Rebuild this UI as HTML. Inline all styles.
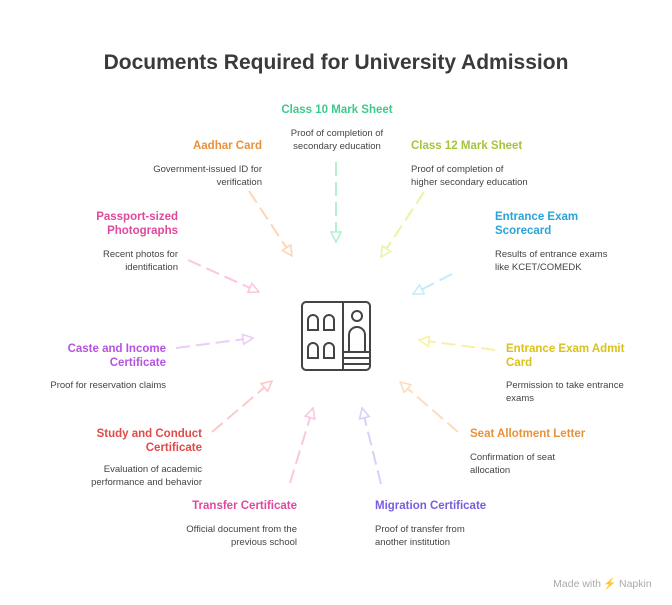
<!DOCTYPE html>
<html><head><meta charset="utf-8"><style>
html,body{margin:0;padding:0;background:#fff;}
svg{display:block;font-family:"Liberation Sans",sans-serif;}
.t{font-size:11.5px;font-weight:bold;}
.d{font-size:9.5px;fill:#444;}
</style></head><body>
<svg width="672" height="605" viewBox="0 0 672 605">
<defs>
<marker id="m1" viewBox="0 0 12 12" refX="11" refY="6" markerWidth="12" markerHeight="12" markerUnits="userSpaceOnUse" orient="auto"><path d="M1,1 L11,6 L1,11 Z" fill="#fff" stroke="#b3f0cf" stroke-width="1.6"/></marker>
<marker id="m2" viewBox="0 0 12 12" refX="11" refY="6" markerWidth="12" markerHeight="12" markerUnits="userSpaceOnUse" orient="auto"><path d="M1,1 L11,6 L1,11 Z" fill="#fff" stroke="#fdd6b5" stroke-width="1.6"/></marker>
<marker id="m3" viewBox="0 0 12 12" refX="11" refY="6" markerWidth="12" markerHeight="12" markerUnits="userSpaceOnUse" orient="auto"><path d="M1,1 L11,6 L1,11 Z" fill="#fff" stroke="#e6f5a6" stroke-width="1.6"/></marker>
<marker id="m4" viewBox="0 0 12 12" refX="11" refY="6" markerWidth="12" markerHeight="12" markerUnits="userSpaceOnUse" orient="auto"><path d="M1,1 L11,6 L1,11 Z" fill="#fff" stroke="#c4ebfa" stroke-width="1.6"/></marker>
<marker id="m5" viewBox="0 0 12 12" refX="11" refY="6" markerWidth="12" markerHeight="12" markerUnits="userSpaceOnUse" orient="auto"><path d="M1,1 L11,6 L1,11 Z" fill="#fff" stroke="#fcc6e2" stroke-width="1.6"/></marker>
<marker id="m6" viewBox="0 0 12 12" refX="11" refY="6" markerWidth="12" markerHeight="12" markerUnits="userSpaceOnUse" orient="auto"><path d="M1,1 L11,6 L1,11 Z" fill="#fff" stroke="#eecbf8" stroke-width="1.6"/></marker>
<marker id="m7" viewBox="0 0 12 12" refX="11" refY="6" markerWidth="12" markerHeight="12" markerUnits="userSpaceOnUse" orient="auto"><path d="M1,1 L11,6 L1,11 Z" fill="#fff" stroke="#f8f0a6" stroke-width="1.6"/></marker>
<marker id="m8" viewBox="0 0 12 12" refX="11" refY="6" markerWidth="12" markerHeight="12" markerUnits="userSpaceOnUse" orient="auto"><path d="M1,1 L11,6 L1,11 Z" fill="#fff" stroke="#fcc9c9" stroke-width="1.6"/></marker>
<marker id="m9" viewBox="0 0 12 12" refX="11" refY="6" markerWidth="12" markerHeight="12" markerUnits="userSpaceOnUse" orient="auto"><path d="M1,1 L11,6 L1,11 Z" fill="#fff" stroke="#fddcc0" stroke-width="1.6"/></marker>
<marker id="m10" viewBox="0 0 12 12" refX="11" refY="6" markerWidth="12" markerHeight="12" markerUnits="userSpaceOnUse" orient="auto"><path d="M1,1 L11,6 L1,11 Z" fill="#fff" stroke="#fbc6e2" stroke-width="1.6"/></marker>
<marker id="m11" viewBox="0 0 12 12" refX="11" refY="6" markerWidth="12" markerHeight="12" markerUnits="userSpaceOnUse" orient="auto"><path d="M1,1 L11,6 L1,11 Z" fill="#fff" stroke="#d8cffb" stroke-width="1.6"/></marker>
</defs>

<text x="336" y="69" text-anchor="middle" style="font-size:21px;font-weight:bold;fill:#3a3a3a">Documents Required for University Admission</text>

<g fill="none" stroke-width="2" stroke-dasharray="14 6">
<line x1="336" y1="162" x2="336" y2="242" stroke="#b3f0cf" marker-end="url(#m1)"/>
<line x1="249" y1="191" x2="292" y2="256" stroke="#fdd6b5" marker-end="url(#m2)"/>
<line x1="424" y1="192" x2="381" y2="257" stroke="#e6f5a6" marker-end="url(#m3)"/>
<line x1="452" y1="274" x2="413" y2="294" stroke="#c4ebfa" marker-end="url(#m4)"/>
<line x1="188" y1="260" x2="259" y2="292" stroke="#fcc6e2" marker-end="url(#m5)"/>
<line x1="176" y1="348" x2="253" y2="338" stroke="#eecbf8" marker-end="url(#m6)"/>
<line x1="495" y1="350" x2="419" y2="340" stroke="#f8f0a6" marker-end="url(#m7)"/>
<line x1="212" y1="432" x2="272" y2="381" stroke="#fcc9c9" marker-end="url(#m8)"/>
<line x1="458" y1="432" x2="400" y2="382" stroke="#fddcc0" marker-end="url(#m9)"/>
<line x1="290" y1="483" x2="313" y2="408" stroke="#fbc6e2" marker-end="url(#m10)"/>
<line x1="381" y1="484" x2="362" y2="408" stroke="#d8cffb" marker-end="url(#m11)"/>
</g>

<g fill="none" stroke="#444" stroke-width="2">
<rect x="302" y="302" width="68" height="68" rx="4"/>
<line x1="343" y1="302" x2="343" y2="370"/>
<path d="M308,330 v-10 a5,5 0 0 1 10,0 v10 z"/>
<path d="M324,330 v-10 a5,5 0 0 1 10,0 v10 z"/>
<path d="M308,358 v-10 a5,5 0 0 1 10,0 v10 z"/>
<path d="M324,358 v-10 a5,5 0 0 1 10,0 v10 z"/>
<circle cx="357" cy="316" r="5"/>
<path d="M349,352 v-17 a8,8 0 0 1 16,0 v17"/>
<line x1="343" y1="352" x2="370" y2="352"/>
<line x1="343" y1="358" x2="370" y2="358"/>
<line x1="343" y1="364" x2="370" y2="364"/>
</g>

<text class="t" x="337" y="113" text-anchor="middle" fill="#3ec98a">Class 10 Mark Sheet</text>
<text class="d" x="337" y="136" text-anchor="middle">Proof of completion of</text>
<text class="d" x="337" y="149" text-anchor="middle">secondary education</text>

<text class="t" x="262" y="149" text-anchor="end" fill="#e8923a">Aadhar Card</text>
<text class="d" x="262" y="172" text-anchor="end">Government-issued ID for</text>
<text class="d" x="262" y="185" text-anchor="end">verification</text>

<text class="t" x="411" y="149" fill="#a6c43a">Class 12 Mark Sheet</text>
<text class="d" x="411" y="172">Proof of completion of</text>
<text class="d" x="411" y="185">higher secondary education</text>

<text class="t" x="495" y="220" fill="#2aa4d8">Entrance Exam</text>
<text class="t" x="495" y="234" fill="#2aa4d8">Scorecard</text>
<text class="d" x="495" y="257">Results of entrance exams</text>
<text class="d" x="495" y="270">like KCET/COMEDK</text>

<text class="t" x="178" y="220" text-anchor="end" fill="#e0489e">Passport-sized</text>
<text class="t" x="178" y="234" text-anchor="end" fill="#e0489e">Photographs</text>
<text class="d" x="178" y="257" text-anchor="end">Recent photos for</text>
<text class="d" x="178" y="270" text-anchor="end">identification</text>

<text class="t" x="166" y="352" text-anchor="end" fill="#b652e0">Caste and Income</text>
<text class="t" x="166" y="366" text-anchor="end" fill="#b652e0">Certificate</text>
<text class="d" x="166" y="388" text-anchor="end">Proof for reservation claims</text>

<text class="t" x="506" y="352" fill="#d9c21a">Entrance Exam Admit</text>
<text class="t" x="506" y="366" fill="#d9c21a">Card</text>
<text class="d" x="506" y="388">Permission to take entrance</text>
<text class="d" x="506" y="401">exams</text>

<text class="t" x="202" y="437" text-anchor="end" fill="#e04a4a">Study and Conduct</text>
<text class="t" x="202" y="451" text-anchor="end" fill="#e04a4a">Certificate</text>
<text class="d" x="202" y="472" text-anchor="end">Evaluation of academic</text>
<text class="d" x="202" y="485" text-anchor="end">performance and behavior</text>

<text class="t" x="470" y="437" fill="#e8923a">Seat Allotment Letter</text>
<text class="d" x="470" y="460">Confirmation of seat</text>
<text class="d" x="470" y="473">allocation</text>

<text class="t" x="297" y="509" text-anchor="end" fill="#e0489e">Transfer Certificate</text>
<text class="d" x="297" y="532" text-anchor="end">Official document from the</text>
<text class="d" x="297" y="545" text-anchor="end">previous school</text>

<text class="t" x="375" y="509" fill="#7a5ce0">Migration Certificate</text>
<text class="d" x="375" y="532">Proof of transfer from</text>
<text class="d" x="375" y="545">another institution</text>

<text x="601" y="587" text-anchor="end" style="font-size:10.5px;fill:#aaa">Made with</text>
<text x="603" y="587" style="font-size:10.5px;fill:#aaa">⚡ Napkin</text>
</svg>
</body></html>
